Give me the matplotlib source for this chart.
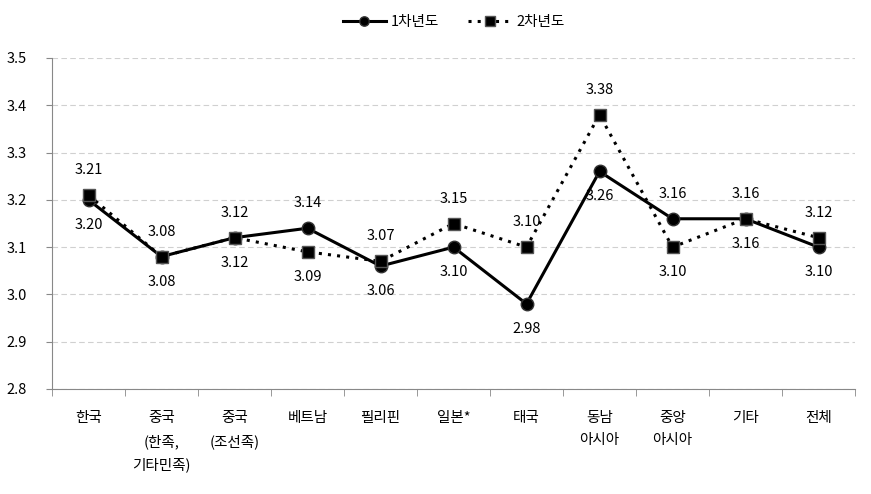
import matplotlib
matplotlib.use("Agg")
import matplotlib.pyplot as plt
import numpy as np

plt.rcParams['font.family'] = ['Noto Sans CJK KR', 'DejaVu Sans']

categories = ['한국', '중국\n(한족,\n기타민족)', '중국\n(조선족)', '베트남', '필리핀', '일본*',
              '태국', '동남\n아시아', '중앙\n아시아', '기타', '전체']
year1 = [3.20, 3.08, 3.12, 3.14, 3.06, 3.10, 2.98, 3.26, 3.16, 3.16, 3.10]
year2 = [3.21, 3.08, 3.12, 3.09, 3.07, 3.15, 3.10, 3.38, 3.10, 3.16, 3.12]
# where each data label sits: 1 = above the point, -1 = below
pos1 = [-1, -1, -1, 1, -1, -1, -1, -1, 1, -1, -1]
pos2 = [1, 1, 1, -1, 1, 1, 1, 1, -1, 1, 1]

fig = plt.figure(figsize=(8.71, 4.94), dpi=100)
ax = fig.add_axes([52/871, (494-389)/494, (855-52)/871, (389-58)/494])

x = np.arange(len(categories))
ax.plot(x, year1, color='black', lw=2.2, marker='o', ms=9, mec='#333333',
        label='1차년도', zorder=3)
ax.plot(x, year2, color='black', lw=2.2, ls=(0, (1, 2)), marker='s', ms=9,
        mec='#555555', label='2차년도', zorder=4)

for xi, v, p in zip(x, year1, pos1):
    ax.annotate(f'{v:.2f}', (xi, v), xytext=(0, 18 * p), textcoords='offset points',
                ha='center', va='center', fontsize=10.5)
for xi, v, p in zip(x, year2, pos2):
    ax.annotate(f'{v:.2f}', (xi, v), xytext=(0, 18 * p), textcoords='offset points',
                ha='center', va='center', fontsize=10.5)

ax.set_xlim(-0.5, len(categories) - 0.5)
ax.set_ylim(2.8, 3.5)
ax.set_yticks(np.arange(2.8, 3.51, 0.1))
ax.set_yticklabels([f'{t:.1f}' for t in np.arange(2.8, 3.51, 0.1)], fontsize=10.5)
ax.set_xticks(x)
ax.set_xticklabels(categories, fontsize=10.5, va='top', linespacing=1.75)
ax.set_xticks(np.arange(-0.5, len(categories), 1), minor=True)
ax.tick_params(axis='x', which='major', length=0, pad=16)
ax.tick_params(axis='x', which='minor', length=5, color='#888888', direction='out')
ax.tick_params(axis='y', length=4, color='#888888', pad=14)

ax.grid(axis='y', color='#d0d0d0', ls=(0, (5, 3)), lw=0.8)
ax.set_axisbelow(True)
for s in ['top', 'right']:
    ax.spines[s].set_visible(False)
for s in ['left', 'bottom']:
    ax.spines[s].set_color('#888888')

ax.legend(loc='upper center', bbox_to_anchor=(0.5, 1.17), ncol=2, frameon=False,
          fontsize=10.5, handlelength=3, columnspacing=2, handletextpad=0.3,
          markerscale=0.75)

fig.savefig('out.png', dpi=100)
